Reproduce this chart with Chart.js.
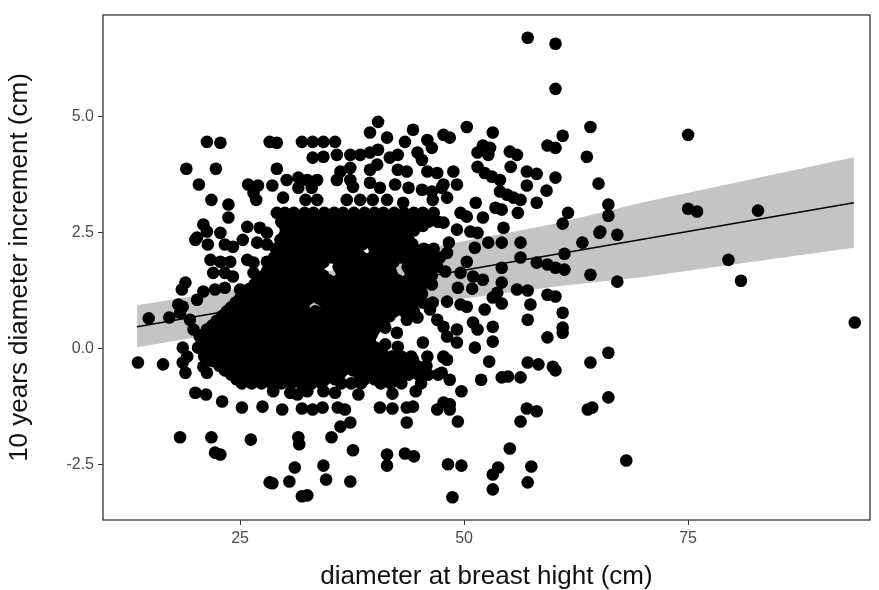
<!DOCTYPE html>
<html><head><meta charset="utf-8">
<script src="https://cdn.jsdelivr.net/npm/chart.js@4.4.1/dist/chart.umd.min.js"></script>
<style>html,body{margin:0;padding:0;background:#fff}canvas{display:block}</style>
</head><body>
<canvas id="c" width="879" height="590"></canvas>
<script>
// ---- axis ticks ----
const dbhTicks = [25, 50, 75];
const incTicks = [-2.5, 0, 2.5, 5];

// ---- individually read points (dbh, increment) ----
const sparseDbh = [
57.1,60.2,60.2,75.0,75.0,76.0,82.8,79.5,80.9,93.6,
50.3,53.2,64.1,61.0,47.7,48.4,59.3,60.2,52.1,52.9,51.5,52.7,55.1,55.9,63.7,48.8,51.5,52.3,53.1,54.0,55.2,57.0,58.1,60.2,65.0,47.7,49.2,57.0,59.2,54.0,54.8,55.5,56.3,48.1,51.3,58.1,53.5,54.2,56.0,49.6,50.3,52.1,61.6,66.1,66.1,61.0,65.2,67.1,54.4,47.7,49.2,50.7,51.5,
48.3,51.2,52.7,54.2,56.3,63.2,65.1,61.2,56.3,50.3,48.1,58.1,59.3,60.2,61.2,47.9,49.6,51.0,52.1,54.2,64.1,67.1,49.3,50.9,54.2,53.7,53.2,55.9,57.1,59.3,60.2,52.3,54.2,57.4,61.0,48.1,49.6,50.3,57.1,53.2,61.0,61.0,59.3,51.0,51.5,49.2,48.1,49.2,53.2,51.2,66.1,52.8,57.1,58.3,59.9,64.1,47.7,48.1,
60.2,48.4,47.5,51.9,54.2,54.9,56.3,49.7,66.1,63.8,64.3,57.0,58.1,56.3,47.7,48.4,48.4,49.3,55.1,48.2,49.7,53.8,53.2,57.5,68.1,57.1,53.2,48.7,
31.5,31.6,35.2,37.6,36.2,37.3,41.4,41.4,43.4,44.4,43.6,31.1,34.3,34.6,37.3,28.6,30.5,31.9,32.5,42.0,44.6,40.6,42.0,43.6,44.3,47.0,29.7,31.9,33.1,34.2,35.9,36.7,38.2,35.6,34.3,28.7,30.6,31.4,32.5,
13.6,16.4,18.9,20.9,21.3,20.0,21.2,23.0,25.2,27.5,18.3,21.8,22.2,22.8,26.2,28.3,
21.3,22.8,28.3,29.1,19.0,22.3,29.1,20.4,25.9,27.0,28.6,26.5,26.8,21.8,23.7,23.7,29.1,20.9,21.3,22.8,25.8,27.2,28.0,20.2,
40.4,39.5,41.4,44.3,43.4,45.9,46.4,31.9,33.1,34.3,35.6,33.1,34.3,35.8,37.3,38.4,39.5,40.4,41.7,42.6,44.8,45.3,37.3,36.2,40.3,39.5,42.6,43.6,45.9,47.0,30.2,31.5,32.5,33.6,35.8,37.3,31.5,33.0,37.6,39.5,40.6,42.3,43.8,45.3,46.4,47.5,29.8,32.3,33.6,36.9,38.4,39.8,41.4,43.2,46.5,
20.0,21.4,23.3,24.2,25.3,26.9,28.0,21.7,22.8,23.9,25.8,26.5,28.0,29.1,18.9,18.5,22.0,23.3,24.2,26.5,28.0,20.9,22.2,23.3,25.0,26.9,28.7,18.1,18.6,20.2,14.8,17.1,19.4,18.3,19.8,20.5,18.6,19.1,18.6,
41.2,42.5,43.6,44.8,41.2,42.6,46.2,47.0,47.7,45.4,45.9,47.7,44.3
];
const sparseInc = [
6.69,6.56,5.59,4.60,3.01,2.95,2.97,1.91,1.46,0.56,
4.77,4.65,4.77,4.58,4.60,4.54,4.37,4.32,4.37,4.32,4.22,4.17,4.24,4.17,4.13,3.81,3.91,3.78,3.70,3.63,3.91,3.81,3.76,3.68,3.55,3.53,3.53,3.51,3.40,3.38,3.31,3.25,3.20,3.25,3.14,3.14,3.03,2.99,2.92,2.92,2.84,2.82,2.92,3.10,2.86,2.69,2.52,2.45,2.60,2.71,2.56,2.52,2.49,
2.28,2.17,2.28,2.28,2.28,2.28,2.49,2.04,1.96,1.87,2.06,1.85,1.81,1.74,1.70,1.66,1.63,1.55,1.48,1.74,1.59,1.44,1.31,1.29,1.42,1.20,1.10,1.27,1.25,1.16,1.12,0.84,0.97,0.95,0.77,1.01,0.95,0.90,0.62,0.47,0.45,0.34,0.24,0.56,0.41,0.41,0.26,0.13,0.15,0.02,-0.09,-0.28,-0.30,-0.34,-0.39,-0.30,-0.17,-0.24,
-0.47,-0.67,-0.52,-0.67,-0.62,-0.60,-0.62,-0.92,-1.05,-1.31,-1.27,-1.29,-1.35,-1.57,-1.16,-1.20,-1.31,-1.57,-2.15,-2.49,-2.52,-2.56,-2.71,-2.54,-2.41,-2.88,-3.03,-3.20,
-1.91,-2.06,-1.91,-2.19,-1.68,-1.59,-2.28,-2.52,-2.26,-2.32,-1.59,-2.56,-2.52,-2.82,-2.86,-2.90,-2.86,-3.18,-3.16,-0.97,-0.92,-1.27,-1.29,-1.27,-1.25,-1.31,-1.31,-1.29,-1.31,-1.27,-1.27,-1.31,-0.99,-0.95,-0.92,-0.92,-0.95,-0.99,-0.92,
-0.30,-0.34,-0.52,-0.39,-0.52,-0.95,-0.99,-1.14,-1.27,-1.25,-1.91,-1.91,-2.24,-2.28,-1.96,-2.88,
4.45,4.43,4.45,4.43,3.87,3.87,3.87,3.53,3.53,3.51,3.51,3.35,3.20,3.20,3.10,2.82,2.92,2.67,2.52,2.49,2.62,2.60,2.49,2.39,
4.88,4.65,4.54,4.71,4.45,4.49,4.32,4.45,4.45,4.45,4.45,4.11,4.13,4.17,4.17,4.17,4.22,4.28,4.11,4.17,4.22,4.06,3.89,3.81,3.96,3.85,3.85,3.81,3.81,3.78,3.63,3.68,3.63,3.63,3.63,3.63,3.46,3.46,3.48,3.57,3.46,3.53,3.46,3.42,3.38,3.46,3.25,3.20,3.20,3.20,3.20,3.20,3.20,3.14,3.20,
2.34,2.24,2.24,2.19,2.34,2.28,2.24,1.91,1.87,1.87,1.91,1.85,1.87,1.91,1.42,1.27,1.63,1.63,1.55,1.63,1.59,1.23,1.27,1.31,1.27,1.23,1.27,0.95,0.90,1.05,0.65,0.67,0.62,0.77,0.41,0.26,0.02,-0.17,-0.30,
0.45,0.34,0.62,0.67,0.09,0.04,0.84,0.62,0.47,0.13,-0.17,-0.19,-0.24
];

// ---- dense core, read row by row (increment level -> dbh values) ----
const rowInc = [
2.92,2.83,2.73,2.64,2.54,2.44,2.34,2.25,2.15,2.05,1.96,1.86,1.76,1.66,1.57,1.47,1.38,1.28,1.18,1.08,
0.99,0.89,0.80,0.70,0.60,0.50,0.41,0.31,0.22,0.12,0.02,-0.08,-0.17,-0.27,-0.37,-0.47,-0.56,-0.66,-0.75
];
const rowDbh = [
[30.0,31.0,32.2,33.2,34.4,35.5,36.5,37.7,38.9,40.0,41.0,42.2,43.3,44.4,45.4,46.6],
[30.5,31.6,32.7,33.8,34.9,36.0,37.1,38.2,39.3,40.4,41.5,42.6,43.7,44.8,45.9],
[29.6,30.6,31.7,32.8,33.9,35.1,36.1,37.2,38.3,39.5,40.5,41.6,42.8,43.9,44.9,46.0,47.1],
[30.0,31.1,32.2,33.3,34.4,35.5,36.6,37.7,38.8,39.9,41.0,42.1,43.2,44.3,45.4],
[30.1,31.2,32.3,33.4,34.5,35.5,36.7,37.8,38.8,39.9,41.1,42.2,43.2,44.4],
[30.0,31.1,32.2,33.3,34.4,35.5,36.6,37.7,38.8,39.9,41.0,42.1,43.2],
[29.5,30.6,31.8,32.9,33.9,35.0,36.1,37.3,38.3,39.4,40.6,41.7,42.7,43.8],
[29.9,31.0,32.1,33.2,34.3,35.4,36.5,37.6,38.7,39.8,40.9,42.0,43.1,44.2],
[29.0,30.1,31.2,32.3,33.4,34.5,35.6,36.7,37.8,40.0,41.1,42.2,43.3,44.4,45.5,46.6],
[29.4,30.5,31.6,32.7,33.8,34.9,36.0,37.1,38.2,40.6,41.7,42.8,43.9,45.0,46.1],
[28.8,29.9,31.0,32.0,33.1,34.2,35.3,36.4,37.5,38.6,39.7,40.8,41.9,43.0,44.1,45.2,46.3,47.3],
[28.8,29.9,31.0,32.1,33.2,34.3,36.6,37.7,38.8,39.9,41.0,42.1,44.3,45.4,46.5],
[28.3,29.4,30.5,31.6,32.7,33.8,36.0,37.1,38.2,39.3,40.4,41.5,43.7,44.8,45.9,47.0],
[28.0,29.1,30.2,31.3,32.4,33.5,36.3,37.4,38.5,39.6,40.7,41.8,44.0,45.1],
[27.7,28.8,29.9,31.0,32.1,33.2,34.3,36.5,37.6,38.7,39.8,40.9,42.0,44.2,45.3,46.4],
[27.2,28.3,29.4,30.5,31.6,32.7,33.8,34.9,36.0,37.1,38.2,39.3,40.4,41.5,42.6,43.7,44.8,45.9],
[26.6,27.7,28.8,29.9,31.0,32.1,33.2,34.3,35.4,36.5,37.6,38.7,39.8,40.9,42.0,43.1,44.2,45.3,46.4],
[26.0,27.1,28.2,29.3,30.4,31.5,32.6,33.7,34.8,35.9,37.0,38.1,39.2,40.3,41.4,42.5,43.6,44.7],
[25.5,26.6,27.7,28.8,29.9,31.0,32.1,33.2,34.3,35.4,36.5,37.6,38.7,39.8,40.9,42.0,43.1,44.2,45.3],
[25.0,26.1,27.2,28.3,29.4,30.5,31.6,32.7,33.8,34.9,36.0,37.1,38.2,39.3,40.4,41.5,42.6,43.7,44.8],
[24.5,25.6,26.7,27.8,28.9,30.0,31.1,32.2,34.4,35.5,36.6,37.7,38.8,39.9,41.0,42.1,43.2,44.3,45.4,46.5],
[24.0,25.1,26.2,27.3,28.4,29.5,30.6,31.7,34.9,36.0,37.1,38.2,39.3,40.4,41.5,42.6,43.7],
[23.5,24.6,25.7,26.8,27.9,29.0,30.1,31.2,32.3,33.4,34.5,35.6,36.7,37.8,38.9,40.0,41.1,42.2,43.3,44.4],
[23.0,24.1,25.2,26.3,27.4,28.5,29.6,30.7,31.8,32.9,34.0,35.1,36.2,37.3,38.4,39.5,40.6,41.7],
[22.4,23.5,24.6,25.7,26.8,27.9,29.0,30.1,31.2,32.3,33.4,34.5,35.6,36.7,37.8,38.9,40.0,41.1],
[21.9,23.0,24.1,25.2,26.3,27.4,28.5,29.6,30.7,31.8,32.9,34.0,35.1,36.2,37.3,38.4,39.5,40.6],
[21.3,22.4,23.5,24.6,25.7,26.8,27.9,29.0,30.1,31.2,32.3,33.4,34.5,35.6,36.7,37.8,38.9,40.0],
[21.0,22.1,23.2,24.3,25.4,26.5,27.6,28.7,29.8,30.9,32.0,33.1,34.2,35.3,36.4,37.5,38.6,39.7],
[20.8,21.9,23.0,24.1,25.2,26.3,27.4,28.5,29.6,30.7,31.8,32.9,34.0,35.1,36.2,37.3,38.4,39.5],
[20.8,21.9,23.0,24.1,25.2,26.3,27.4,28.5,29.6,30.7,31.8,32.9,34.0,35.1,36.2,37.3,38.4,39.5],
[20.3,21.4,22.5,23.6,24.7,25.8,26.9,28.0,29.1,30.2,31.3,32.4,33.5,34.6,35.7,36.8,37.9,39.0,40.1],
[21.0,22.1,23.2,24.3,25.4,26.5,27.6,28.7,29.8,30.9,32.0,33.1,34.2,35.3,36.4,37.5,38.6,39.7,40.8],
[21.0,22.1,23.2,24.3,25.4,26.5,27.6,28.7,29.8,30.9,32.0,33.1,34.2,35.3,36.4,37.5,38.6,39.7,40.8,41.9,43.0,44.1],
[22.0,23.1,24.2,25.3,26.4,27.5,28.6,29.7,30.8,31.9,33.0,34.1,35.2,36.3,37.4,38.5,39.6,40.7,41.8],
[22.7,23.8,24.9,26.0,27.1,28.2,29.3,30.4,31.5,32.6,33.7,34.8,35.9,37.0,38.1,39.2,40.3,41.4,42.5,43.6,44.7,45.8],
[23.3,24.4,25.5,26.6,27.7,28.8,29.9,31.0,32.1,33.2,34.3,35.4,36.5,37.6,38.7,39.8,40.9,42.0],
[24.0,25.1,26.2,27.3,28.4,29.5,30.6,31.7,32.8,33.9,35.0,36.1,38.3,39.4,40.5,41.6,42.7,43.8,44.9,46.0,47.1],
[24.6,25.7,26.8,27.9,29.0,30.1,31.2,32.3,33.4,34.5,35.6,38.9,40.0,41.1,42.2],
[25.2,26.3,27.4,28.5,29.6,30.7,31.8,33.0,34.1,36.3,37.4,38.5,40.7,41.8,43.0,45.2]
];

// ---- fitted line and its confidence band ----
const fitDbh = [13.5, 93.5];
const fitInc = [0.47, 3.14];
const bandDbh   = [13.5, 30, 47, 60, 70, 80, 93.5];
const bandUpper = [0.93, 1.45, 2.20, 2.68, 3.15, 3.56, 4.12];
const bandLower = [0.03, 0.56, 1.00, 1.33, 1.54, 1.81, 2.17];

// ---- build datasets ----
const pts = [];
sparseDbh.forEach((x, i) => pts.push({x: x, y: sparseInc[i]}));
rowInc.forEach((y, r) => rowDbh[r].forEach(x => pts.push({x: x, y: y})));
const upper = bandDbh.map((x, i) => ({x: x, y: bandUpper[i]}));
const lower = bandDbh.map((x, i) => ({x: x, y: bandLower[i]}));
const fit = fitDbh.map((x, i) => ({x: x, y: fitInc[i]}));

const frame = {
  id: 'frame',
  afterDatasetsDraw(chart) {
    const a = chart.chartArea, ctx = chart.ctx;
    ctx.save();
    ctx.strokeStyle = '#333333';
    ctx.lineWidth = 1.3;
    ctx.strokeRect(a.left, a.top, a.right - a.left, a.bottom - a.top);
    ctx.restore();
  }
};

const tickFont = {family: "'Liberation Sans', Arial, sans-serif", size: 16};
const titleFont = {family: "'Liberation Sans', Arial, sans-serif", size: 26, lineHeight: 1};

new Chart(document.getElementById('c'), {
  type: 'scatter',
  data: {
    datasets: [
      {type: 'line', data: upper, fill: '+1', backgroundColor: '#c4c4c4', borderWidth: 0, pointRadius: 0, order: 3},
      {type: 'line', data: lower, fill: false, borderWidth: 0, pointRadius: 0, order: 3},
      {data: pts, backgroundColor: '#000000', borderWidth: 0, pointRadius: 6.3, pointHoverRadius: 6.3, order: 2},
      {type: 'line', data: fit, borderColor: '#000000', borderWidth: 1.6, pointRadius: 0, fill: false, order: 1}
    ]
  },
  options: {
    responsive: false,
    animation: false,
    events: [],
    layout: {padding: {left: 0, right: 9, top: 15, bottom: 0}},
    plugins: {legend: {display: false}, tooltip: {enabled: false}},
    scales: {
      x: {
        type: 'linear', min: 9.7, max: 95.3,
        afterBuildTicks: s => { s.ticks = dbhTicks.map(v => ({value: v})); },
        afterFit: s => { s.height = 70; },
        border: {display: false},
        grid: {drawOnChartArea: false, drawTicks: true, tickLength: 5, color: '#333333'},
        ticks: {font: tickFont, color: '#4d4d4d', padding: 4, maxRotation: 0},
        title: {display: true, text: 'diameter at breast hight (cm)', font: titleFont, color: '#111111', padding: {top: 0, bottom: 0}}
      },
      y: {
        type: 'linear', min: -3.69, max: 7.18,
        afterBuildTicks: s => { s.ticks = incTicks.map(v => ({value: v})); },
        afterFit: s => { s.width = 103; },
        border: {display: false},
        grid: {drawOnChartArea: false, drawTicks: true, tickLength: 5, color: '#333333'},
        ticks: {font: tickFont, color: '#4d4d4d', padding: 4, callback: v => v.toFixed(1)},
        title: {display: true, text: '10 years diameter increment (cm)', font: titleFont, color: '#111111', padding: {top: 7, bottom: 0}}
      }
    }
  },
  plugins: [frame]
});
</script></body></html>
